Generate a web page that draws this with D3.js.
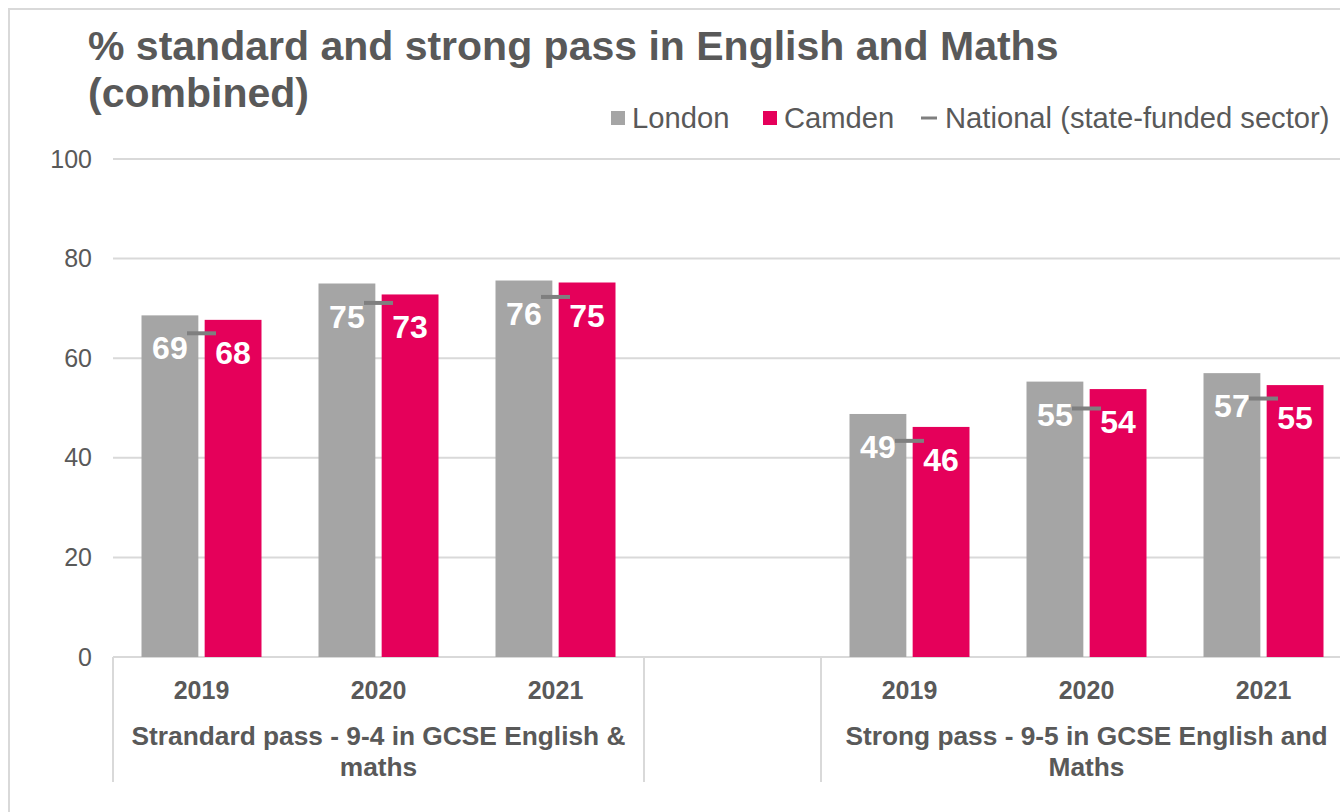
<!DOCTYPE html>
<html>
<head>
<meta charset="utf-8">
<script src="https://cdn.jsdelivr.net/npm/d3@7/dist/d3.min.js"></script>
<style>
  html, body { margin: 0; padding: 0; background: #fff; overflow: hidden; }
  svg { display: block; font-family: Arial, "Liberation Sans", sans-serif; }
</style>
</head>
<body>
<svg id="chart" width="1340" height="812"></svg>
<script>
// GCSE English & Maths pass rates, London vs Camden, with national marker
const years = ["2019", "2020", "2021"];
const groupLabels = [
  ["Strandard pass - 9-4 in GCSE English &", "maths"],
  ["Strong pass - 9-5 in GCSE English and", "Maths"]
];
const seriesNames = ["London", "Camden"];
const nationalName = "National (state-funded sector)";
const london   = [68.6, 75.0, 75.6, 48.8, 55.3, 57.0];
const camden   = [67.7, 72.8, 75.2, 46.2, 53.8, 54.6];
const national = [65.0, 71.1, 72.3, 43.4, 49.9, 51.9];
const yTicks = [0, 20, 40, 60, 80, 100];

const colors = { London: "#a5a5a5", Camden: "#e5005a", National: "#7f7f7f" };
const textColor = "#595959";
const gridColor = "#d9d9d9";

// Category slots: three years per group with an empty slot between groups
const slots = [];
groupLabels.forEach((g, gi) => {
  years.forEach((y, yi) => slots.push({ key: gi + "-" + y, year: y, group: gi, idx: gi * 3 + yi }));
  if (gi < groupLabels.length - 1) slots.push({ key: "gap-" + gi, year: "", group: -1, idx: -1 });
});
const data = slots.filter(s => s.idx >= 0).map(s => ({
  key: s.key, year: s.year,
  London: london[s.idx], Camden: camden[s.idx], National: national[s.idx]
}));

const svg = d3.select("#chart");

// Outer frame
svg.append("rect")
  .attr("x", 9).attr("y", 9).attr("width", 1345).attr("height", 815)
  .attr("fill", "none").attr("stroke", gridColor).attr("stroke-width", 2);

const plotLeft = 113, plotRight = 1352, plotTop = 159, plotBottom = 657;

const x0 = d3.scaleBand().domain(slots.map(s => s.key)).range([plotLeft, plotRight]).padding(0);
const step = x0.bandwidth();
const x1 = d3.scaleBand().domain(seriesNames)
  .range([step / 2 - 60, step / 2 + 60]).paddingInner(0.1);
const y = d3.scaleLinear().domain([0, 100]).range([plotBottom, plotTop]);

// Gridlines
svg.append("g").selectAll("line").data(yTicks).join("line")
  .attr("x1", plotLeft).attr("x2", plotRight)
  .attr("y1", d => y(d)).attr("y2", d => y(d))
  .attr("stroke", gridColor).attr("stroke-width", 2);

// Y axis labels
const yAxis = svg.append("g").attr("transform", `translate(${plotLeft - 21},0)`)
  .call(d3.axisLeft(y).tickValues(yTicks).tickSize(0).tickPadding(0).tickFormat(d3.format("d")));
yAxis.select(".domain").remove();
yAxis.selectAll("text").attr("font-size", 25).attr("fill", textColor)
  .attr("font-family", "Arial, 'Liberation Sans', sans-serif");

// Bars
const groupsSel = svg.append("g").selectAll("g").data(data).join("g")
  .attr("transform", d => `translate(${x0(d.key)},0)`);

groupsSel.selectAll("rect").data(d => seriesNames.map(n => ({ name: n, value: d[n] }))).join("rect")
  .attr("x", d => x1(d.name)).attr("width", x1.bandwidth())
  .attr("y", d => y(d.value)).attr("height", d => y(0) - y(d.value))
  .attr("fill", d => colors[d.name]);

// Value labels inside bar ends
groupsSel.selectAll("text.val").data(d => seriesNames.map(n => ({ name: n, value: d[n] }))).join("text")
  .attr("class", "val")
  .attr("x", d => x1(d.name) + x1.bandwidth() / 2)
  .attr("y", d => y(d.value) + 44)
  .attr("text-anchor", "middle").attr("font-size", 32).attr("font-weight", "bold")
  .attr("fill", "#fff")
  .text(d => Math.round(d.value));

// National markers
groupsSel.append("line")
  .attr("x1", step / 2 - 14.5).attr("x2", step / 2 + 14.5)
  .attr("y1", d => y(d.National)).attr("y2", d => y(d.National))
  .attr("stroke", colors.National).attr("stroke-width", 4);

// X axis: year labels
const xAxis = svg.append("g").attr("transform", `translate(0,${plotBottom})`)
  .call(d3.axisBottom(x0).tickSize(0).tickPadding(0).tickFormat(k => slots.find(s => s.key === k).year));
xAxis.select(".domain").remove();
xAxis.selectAll("text").attr("dy", null).attr("y", 42)
  .attr("font-size", 25).attr("font-weight", "bold").attr("fill", textColor)
  .attr("font-family", "Arial, 'Liberation Sans', sans-serif");

// Group separators
const sepX = [plotLeft];
slots.forEach((s, i) => {
  const next = slots[i + 1];
  if (s.group >= 0 && (!next || next.group !== s.group)) sepX.push(x0(s.key) + step);
  if (s.group < 0) sepX.push(x0(s.key) + step);
});
svg.append("g").selectAll("line").data(sepX).join("line")
  .attr("x1", d => d).attr("x2", d => d)
  .attr("y1", plotBottom).attr("y2", 782)
  .attr("stroke", gridColor).attr("stroke-width", 2);

// Group labels
groupLabels.forEach((lines, gi) => {
  const keys = slots.filter(s => s.group === gi).map(s => s.key);
  const cx = (x0(keys[0]) + x0(keys[keys.length - 1]) + step) / 2;
  const t = svg.append("text").attr("text-anchor", "middle")
    .attr("font-size", 26.3).attr("font-weight", "bold").attr("fill", textColor);
  lines.forEach((ln, li) => t.append("tspan").attr("x", cx).attr("y", 745 + li * 31).text(ln));
});

// Title
const title = svg.append("text").attr("x", 88).attr("font-size", 41)
  .attr("font-weight", "bold").attr("fill", textColor);
title.append("tspan").attr("x", 88).attr("y", 60).text("% standard and strong pass in English and Maths");
title.append("tspan").attr("x", 88).attr("y", 107).text("(combined)");

// Legend
const legendItems = [
  { name: "London", type: "box", x: 611 },
  { name: "Camden", type: "box", x: 763 },
  { name: nationalName, key: "National", type: "line", x: 921 }
];
const lg = svg.append("g");
legendItems.forEach(it => {
  const c = colors[it.key || it.name];
  if (it.type === "box") {
    lg.append("rect").attr("x", it.x).attr("y", 111).attr("width", 14).attr("height", 14).attr("fill", c);
  } else {
    lg.append("line").attr("x1", it.x).attr("x2", it.x + 16).attr("y1", 118).attr("y2", 118)
      .attr("stroke", c).attr("stroke-width", 3);
  }
  lg.append("text").attr("x", it.x + (it.type === "box" ? 21 : 24)).attr("y", 128)
    .attr("font-size", 29.2).attr("fill", textColor).text(it.name);
});
</script>
</body>
</html>
